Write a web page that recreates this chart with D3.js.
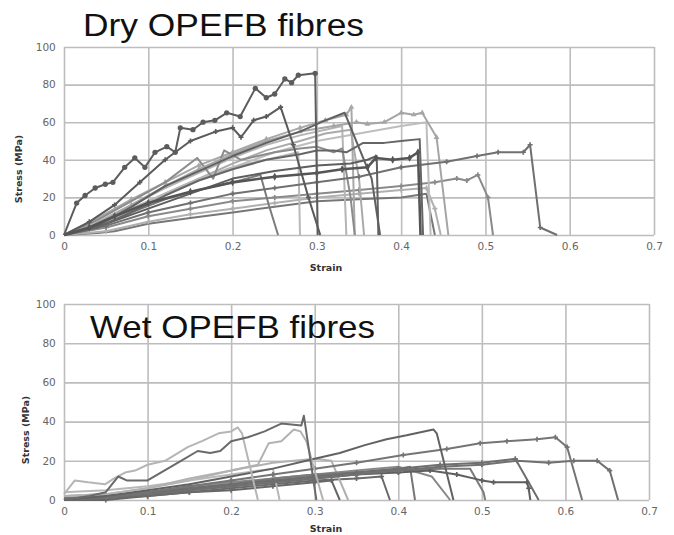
<!DOCTYPE html>
<html>
<head>
<meta charset="utf-8">
<script src="https://cdn.jsdelivr.net/npm/d3@7"></script>
<style>
  html, body { margin: 0; padding: 0; background: #fff; }
  svg { display: block; }
</style>
</head>
<body>
<div id="root"></div>
<script>

const svgWidth = 674;
const svgHeight = 535;

// tick values
const strainTicks = [0, 0.1, 0.2, 0.3, 0.4, 0.5, 0.6, 0.7];
const stressTicks = [0, 20, 40, 60, 80, 100];

// Dry fibres, [strain, stress MPa]
const dry1 = [[0,0],[0.015,17],[0.025,21],[0.037,25],[0.049,27],[0.058,28],[0.072,36],[0.084,41],[0.096,36],[0.108,44],[0.122,47],[0.132,44],[0.138,57],[0.153,56],[0.165,60],[0.179,61],[0.193,65],[0.209,63],[0.227,78],[0.24,73],[0.25,75],[0.262,83],[0.27,81],[0.278,85],[0.298,86],[0.301,0]];
const dry2 = [[0,0],[0.03,7],[0.06,16],[0.09,28],[0.12,40],[0.15,50],[0.18,55],[0.2,57],[0.21,52],[0.225,61],[0.24,63],[0.257,68],[0.272,48],[0.29,20],[0.304,0]];
const dry3 = [[0,0],[0.04,5],[0.08,15],[0.12,26],[0.16,34],[0.2,42],[0.24,49],[0.28,55],[0.31,61],[0.333,65],[0.365,30],[0.375,0]];
const dry4 = [[0,0],[0.04,6],[0.08,16],[0.12,26],[0.16,35],[0.2,43],[0.24,50],[0.28,55],[0.32,58],[0.347,60],[0.36,59],[0.38,60],[0.4,65],[0.415,64],[0.425,65],[0.442,52],[0.456,0]];
const dry5 = [[0,0],[0.04,4],[0.08,12],[0.12,21],[0.16,29],[0.2,35],[0.24,40],[0.28,43],[0.3,45],[0.32,45],[0.335,44],[0.355,49],[0.38,49],[0.4,50],[0.422,51],[0.426,0]];
const dry6 = [[0,0],[0.03,4],[0.06,10],[0.1,17],[0.15,23],[0.2,28],[0.25,31],[0.3,33],[0.33,35],[0.36,36],[0.37,41],[0.39,40],[0.41,41],[0.42,44],[0.423,0]];
const dry7 = [[0,0],[0.05,6],[0.1,14],[0.15,22],[0.2,30],[0.25,34],[0.3,37],[0.34,38],[0.36,40],[0.371,42],[0.373,0]];
const dry8 = [[0,0],[0.05,5],[0.1,12],[0.15,17],[0.2,22],[0.25,25],[0.3,28],[0.35,31],[0.4,36],[0.454,39],[0.49,42],[0.515,44],[0.545,44],[0.553,48],[0.565,4],[0.585,0]];
const dry9 = [[0,0],[0.05,4],[0.1,10],[0.15,14],[0.2,18],[0.25,20],[0.3,22],[0.35,24],[0.4,26],[0.44,28],[0.466,30],[0.478,29],[0.491,32],[0.503,20],[0.509,0]];
const dry10 = [[0,0],[0.05,2],[0.1,7],[0.15,11],[0.2,14],[0.25,17],[0.3,20],[0.35,22],[0.4,24],[0.43,25],[0.44,14],[0.447,0]];
const dry11 = [[0,0],[0.04,1],[0.06,2],[0.1,6],[0.15,9],[0.2,12],[0.25,15],[0.3,18],[0.35,19],[0.4,20],[0.43,22],[0.44,0]];
const dry12 = [[0,0],[0.04,4],[0.08,12],[0.12,19],[0.16,24],[0.2,28],[0.233,32],[0.243,16],[0.254,0]];
const dry13 = [[0,0],[0.04,6],[0.08,14],[0.12,22],[0.16,30],[0.2,36],[0.24,40],[0.278,44],[0.28,0]];
const dry14 = [[0,0],[0.04,7],[0.08,16],[0.12,25],[0.16,33],[0.2,41],[0.24,48],[0.28,53],[0.31,56],[0.33,58],[0.335,0]];
const dry15 = [[0,0],[0.04,5],[0.08,13],[0.12,22],[0.16,30],[0.2,38],[0.24,45],[0.28,50],[0.31,54],[0.34,56],[0.35,30],[0.356,0]];
const dry16 = [[0,0],[0.04,9],[0.08,19],[0.12,28],[0.16,37],[0.2,44],[0.24,51],[0.28,57],[0.31,61],[0.335,64],[0.341,68],[0.345,0]];
const dry17 = [[0,0],[0.05,8],[0.1,18],[0.15,28],[0.2,36],[0.25,44],[0.3,50],[0.35,54],[0.4,58],[0.43,60],[0.435,0]];
const dry18 = [[0,0],[0.04,8],[0.08,18],[0.12,28],[0.158,41],[0.177,30],[0.19,45],[0.21,40],[0.25,44],[0.28,46],[0.3,47],[0.32,44],[0.33,46],[0.34,20],[0.345,0]];

// Wet fibres, [strain, stress MPa]
const wet1 = [[0,3],[0.013,10],[0.029,9],[0.049,8],[0.06,11],[0.073,14],[0.085,15],[0.1,18],[0.121,20],[0.148,27],[0.165,30],[0.185,34],[0.2,35],[0.208,37],[0.213,34],[0.232,0]];
const wet2 = [[0,0],[0.03,2],[0.05,4],[0.065,12],[0.075,10],[0.1,10],[0.12,15],[0.14,20],[0.16,25],[0.175,24],[0.187,25],[0.2,30],[0.22,32],[0.24,35],[0.26,39],[0.284,38],[0.287,43],[0.302,0]];
const wet3 = [[0,2],[0.05,3],[0.1,6],[0.15,11],[0.2,15],[0.232,18],[0.245,29],[0.26,30],[0.275,36],[0.283,35],[0.29,30],[0.31,0]];
const wet4 = [[0,0],[0.05,2],[0.1,5],[0.15,8],[0.2,12],[0.25,16],[0.3,21],[0.33,24],[0.36,28],[0.386,31],[0.41,33],[0.442,36],[0.446,34],[0.466,0]];
const wet5 = [[0,0],[0.05,2],[0.1,4],[0.15,7],[0.2,10],[0.25,13],[0.3,16],[0.35,19],[0.406,23],[0.458,26],[0.498,29],[0.53,30],[0.566,31],[0.588,32],[0.602,27],[0.62,0]];
const wet6 = [[0,0],[0.05,1],[0.1,3],[0.15,5],[0.2,7],[0.25,9],[0.3,11],[0.35,13],[0.4,15],[0.45,17],[0.5,18],[0.542,20],[0.58,19],[0.61,20],[0.638,20],[0.653,15],[0.663,0]];
const wet7 = [[0,0],[0.05,1],[0.1,4],[0.15,6],[0.2,8],[0.25,10],[0.3,12],[0.35,14],[0.4,16],[0.45,18],[0.5,19],[0.54,21],[0.568,0]];
const wet8 = [[0,0],[0.05,1],[0.1,3],[0.15,5],[0.2,7],[0.25,9],[0.3,11],[0.35,13],[0.4,14],[0.438,15],[0.47,13],[0.5,10],[0.514,9],[0.554,9],[0.556,6],[0.558,0]];
const wet9 = [[0,1],[0.05,2],[0.1,4],[0.15,6],[0.2,8],[0.25,10],[0.3,12],[0.35,14],[0.4,16],[0.414,17],[0.42,0]];
const wet10 = [[0,0],[0.05,2],[0.1,4],[0.15,7],[0.2,9],[0.25,11],[0.3,13],[0.35,15],[0.4,17],[0.44,12],[0.462,0]];
const wet11 = [[0,0],[0.05,2],[0.1,4],[0.15,6],[0.2,8],[0.25,11],[0.3,13],[0.35,14],[0.4,15],[0.45,16],[0.486,16],[0.502,4],[0.504,0]];
const wet12 = [[0,4],[0.05,5],[0.1,7],[0.15,10],[0.2,13],[0.25,16],[0.258,0]];
const wet13 = [[0,2],[0.05,3],[0.1,6],[0.15,10],[0.2,15],[0.25,19],[0.3,21],[0.32,20],[0.34,0]];
const wet14 = [[0,0],[0.05,1],[0.1,2],[0.15,4],[0.2,6],[0.25,8],[0.3,10],[0.35,11],[0.38,12],[0.39,0]];
const wet15 = [[0,0],[0.05,0],[0.1,2],[0.15,4],[0.2,5],[0.25,7],[0.3,9],[0.32,10],[0.33,0]];

const dryCurves = [dry11, dry10, dry9, dry17, dry14, dry15, dry16, dry13, dry12, dry18, dry4, dry8, dry7, dry5, dry3, dry2, dry6, dry1];
const dryColors = ["#777", "#b0b0b0", "#8a8a8a", "#bdbdbd", "#b5b5b5", "#aaa", "#a8a8a8", "#b8b8b8", "#7c7c7c", "#8c8c8c", "#a5a5a5", "#707070", "#5e5e5e", "#666", "#606060", "#5a5a5a", "#555", "#5c5c5c"];
const dryMarks = ["none", "cross", "cross", "none", "none", "none", "tri", "none", "none", "none", "tri", "cross", "none", "none", "none", "cross", "diamond", "circle"];

const wetCurves = [wet15, wet14, wet13, wet12, wet9, wet10, wet11, wet7, wet8, wet6, wet5, wet4, wet3, wet1, wet2];
const wetColors = ["#666", "#6a6a6a", "#b0b0b0", "#b8b8b8", "#777", "#888", "#7a7a7a", "#6e6e6e", "#5e5e5e", "#707070", "#747474", "#626262", "#b2b2b2", "#b5b5b5", "#6a6a6a"];
const wetMarks = ["cross", "cross", "none", "none", "none", "none", "none", "cross", "cross", "cross", "cross", "none", "none", "none", "none"];

const panels = [
  { title: "Dry OPEFB fibres", curves: dryCurves, colors: dryColors, marks: dryMarks,
    left: 64, right: 654, top: 47, bottom: 235, titleX: 83, titleY: 36, titleLen: 281, titleSize: 31,
    yLabelX: 19, strainY: 271 },
  { title: "Wet OPEFB fibres", curves: wetCurves, colors: wetColors, marks: wetMarks,
    left: 64, right: 649, top: 304, bottom: 500, titleX: 90, titleY: 338, titleLen: 285, titleSize: 32,
    yLabelX: 26, strainY: 532 }
];

const mainSvg = d3.select("#root")
  .append("svg")
  .attr("width", svgWidth)
  .attr("height", svgHeight);

// soft edge like the scanned figure
mainSvg.append("defs")
  .append("filter")
  .attr("id", "soft")
  .append("feGaussianBlur")
  .attr("stdDeviation", 0.45);

const symbolFor = {
  circle: d3.symbol().type(d3.symbolCircle).size(22),
  cross: d3.symbol().type(d3.symbolCross).size(14),
  tri: d3.symbol().type(d3.symbolTriangle).size(14),
  diamond: d3.symbol().type(d3.symbolDiamond).size(18)
};

const drawPanel = (p) => {
  const xScale = d3.scaleLinear().domain([0, 0.7]).range([p.left, p.right]);
  const yScale = d3.scaleLinear().domain([0, 100]).range([p.bottom, p.top]);
  const g = mainSvg.append("g");

  //grid
  g.append("g")
    .attr("transform", `translate(0,${p.bottom})`)
    .call(d3.axisBottom(xScale).tickValues(strainTicks).tickSize(-(p.bottom - p.top)).tickFormat(d3.format("")))
    .call(ax => ax.select(".domain").remove())
    .call(ax => ax.selectAll("line").attr("stroke", "#bdbdbd").attr("stroke-width", 1.6))
    .call(ax => ax.selectAll("text").attr("dy", "1.1em")
      .attr("fill", "#666").attr("font-family", "DejaVu Sans, sans-serif").attr("font-size", "10.5px"));

  g.append("g")
    .attr("transform", `translate(${p.left},0)`)
    .call(d3.axisLeft(yScale).tickValues(stressTicks).tickSize(-(p.right - p.left)))
    .call(ax => ax.select(".domain").remove())
    .call(ax => ax.selectAll("line").attr("stroke", "#bdbdbd").attr("stroke-width", 1.6))
    .call(ax => ax.selectAll("text").attr("dx", "-0.5em")
      .attr("fill", "#666").attr("font-family", "DejaVu Sans, sans-serif").attr("font-size", "10.5px"));

  //axis titles
  g.append("text")
    .attr("x", 326).attr("y", p.strainY)
    .attr("text-anchor", "middle")
    .attr("font-family", "DejaVu Sans, sans-serif").attr("font-weight", "bold")
    .attr("font-size", "9.5px").attr("fill", "#333")
    .text("Strain");

  g.append("text")
    .attr("transform", `translate(${p.yLabelX},${(p.top + p.bottom) / 2 + 28}) rotate(-90)`)
    .attr("text-anchor", "middle").attr("dy", "0.35em")
    .attr("font-family", "DejaVu Sans, sans-serif").attr("font-weight", "bold")
    .attr("font-size", "9.5px").attr("fill", "#333")
    .text("Stress (MPa)");

  //curves
  const line = d3.line().x(d => xScale(d[0])).y(d => yScale(d[1]));
  const curveLayer = g.append("g").attr("filter", "url(#soft)");

  p.curves.forEach((curve, i) => {
    curveLayer.append("path")
      .datum(curve)
      .attr("d", line)
      .attr("fill", "none")
      .attr("stroke", p.colors[i])
      .attr("stroke-width", p.marks[i] === "diamond" ? 2.6 : 2)
      .attr("stroke-linejoin", "round");

    if (p.marks[i] !== "none") {
      curveLayer.selectAll(null)
        .data(curve.slice(1, -1))
        .join("path")
        .attr("transform", d => `translate(${xScale(d[0])},${yScale(d[1])})`)
        .attr("d", symbolFor[p.marks[i]])
        .attr("fill", p.colors[i]);
    }
  });

  //title
  g.append("text")
    .attr("x", p.titleX).attr("y", p.titleY)
    .attr("font-family", "Liberation Sans, Arial, sans-serif")
    .attr("font-size", p.titleSize + "px")
    .attr("textLength", p.titleLen).attr("lengthAdjust", "spacingAndGlyphs")
    .attr("fill", "#111")
    .text(p.title);
};

panels.forEach(drawPanel);

</script>
</body>
</html>
